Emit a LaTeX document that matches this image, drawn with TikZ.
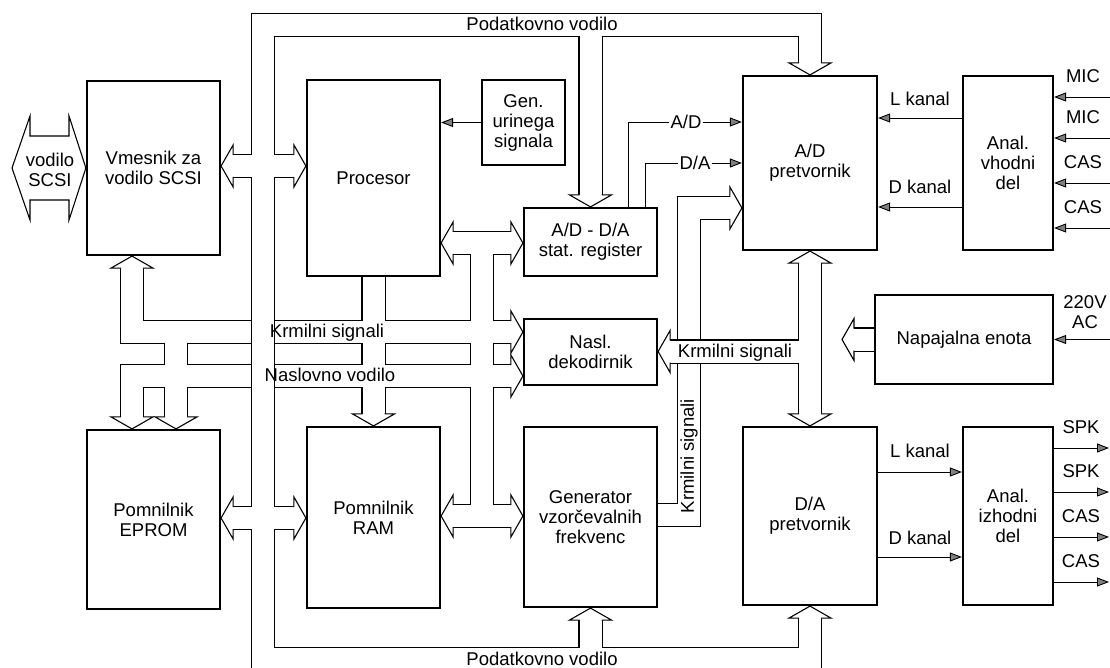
\documentclass[tikz,border=0pt]{standalone}
\usepackage{fontspec}
\setmainfont{Liberation Sans}
\usetikzlibrary{arrows.meta,backgrounds}
\tikzset{
  every node/.style={font=\fontsize{18.5}{20}\selectfont, inner sep=1pt, align=center},
  blok/.style={draw, line width=2.2pt, fill=white},
  sig/.style={line width=0.9pt, -{Triangle[length=12pt, width=9pt, fill=gray]}},
  vod/.style={line width=24.2pt},
  vodnotri/.style={line width=22pt, white},
  glava/.pic={\draw[line width=1.1pt, fill=white] (-12,-11) -- (-12,-21) -- (0,0) -- (-12,21) -- (-12,11);},
}

\begin{document}
\begin{tikzpicture}[x=1pt, y=-1pt]
\useasboundingbox (0,0) rectangle (1110,668);

% bloki
\node[blok, minimum width=133pt, minimum height=174pt] (vmes) at (153.5,168) {Vmesnik za\\vodilo SCSI};
\node[blok, minimum width=133pt, minimum height=196pt] (proc) at (373.5,178) {Procesor};
\node[blok, minimum width=83pt, minimum height=85pt] (gen) at (523.5,122.5) {Gen.\\urinega\\signala};
\node[blok, minimum width=133pt, minimum height=68pt] (reg) at (590.5,242) {A/D - D/A\\stat. register};
\node[blok, minimum width=133pt, minimum height=66pt] (nasl) at (590.5,352) {Nasl.\\dekodirnik};
\node[blok, minimum width=133pt, minimum height=180pt] (vzor) at (590.5,517) {Generator\\vzorčevalnih\\frekvenc};
\node[blok, minimum width=133pt, minimum height=181pt] (ram) at (373.5,517.5) {Pomnilnik\\RAM};
\node[blok, minimum width=133pt, minimum height=179pt] (eprom) at (153.5,519.5) {Pomnilnik\\EPROM};
\node[blok, minimum width=134pt, minimum height=174pt] (adp) at (810,163) {A/D\\pretvornik};
\node[blok, minimum width=90pt, minimum height=174pt] (avh) at (1008,163) {Anal.\\vhodni\\del};
\node[blok, minimum width=178pt, minimum height=89pt] (nap) at (964,339.5) {Napajalna enota};
\node[blok, minimum width=134pt, minimum height=178pt] (dap) at (810,516) {D/A\\pretvornik};
\node[blok, minimum width=90pt, minimum height=178pt] (aiz) at (1008,516) {Anal.\\izhodni\\del};

% vodila (obrobe)
\begin{scope}[on background layer]
\clip (0,0) rectangle (1110,668);
% krmilni signali navpicno
\foreach \s in {vod,vodnotri}
  \draw[\s] (vzor.east |- 0,515) -- (689,515) -- (689,208) -- (730,208);
% krmilni signali desno, napajanje
\foreach \s in {vod,vodnotri}{
  \draw[\s] (810,263) -- (810,414);
  \draw[\s] (810,351.5) -- (670,351.5);
  \draw[\s] (nap.west) -- (854,339.5);
}
% krmilni signali in naslovno vodilo
\foreach \s in {vod,vodnotri}{
  \draw[\s] (132,268) -- (132,332) -- (511,332);
  \draw[\s] (176,332) -- (176,417);
  \draw[\s] (132,417) -- (132,376) -- (511,376);
  \draw[\s] (373.5,277) -- (373.5,414);
  \draw[\s] (482,243) -- (482,516);
  \draw[\s] (453,243) -- (511,243);
  \draw[\s] (453,516) -- (511,516);
}
% podatkovno vodilo
\foreach \s in {vod,vodnotri}{
  \draw[\s] (263,680) -- (263,25) -- (810,25) -- (810,63);
  \draw[\s] (590.5,25) -- (590.5,195);
  \draw[\s] (233,166) -- (294,166);
  \draw[\s] (233,518) -- (294,518);
  \draw[\s] (263,659) -- (810,659) -- (810,618);
  \draw[\s] (590.5,659) -- (590.5,620);
}
% puscice vodil
\pic[rotate=180] at (vmes.east |- 0,166) {glava};
\pic at (proc.west |- 0,166) {glava};
\pic[rotate=180] at (eprom.east |- 0,518) {glava};
\pic at (ram.west |- 0,518) {glava};
\pic[rotate=-90] at (adp.north) {glava};
\pic[rotate=-90] at (reg.north) {glava};
\pic[rotate=90] at (dap.south) {glava};
\pic[rotate=90] at (vzor.south) {glava};
\pic[rotate=90] at (vmes.south -| 132,0) {glava};
\pic[rotate=-90] at (eprom.north -| 132,0) {glava};
\pic[rotate=-90] at (eprom.north -| 176,0) {glava};
\pic[rotate=-90] at (ram.north) {glava};
\pic[rotate=180] at (proc.east |- 0,243) {glava};
\pic at (reg.west |- 0,243) {glava};
\pic[rotate=180] at (ram.east |- 0,516) {glava};
\pic at (vzor.west |- 0,516) {glava};
\pic at (nasl.west |- 0,332) {glava};
\pic at (nasl.west |- 0,376) {glava};
\pic[rotate=180] at (nasl.east |- 0,351.5) {glava};
\pic[rotate=90] at (adp.south) {glava};
\pic[rotate=-90] at (dap.north) {glava};
\pic at (adp.west |- 0,208) {glava};
\pic[rotate=180] at (842,339.5) {glava};
\end{scope}

% vodilo SCSI
\draw[line width=1.1pt, fill=white] (vmes.west |- 0,168) -- (69,116) -- (69,136) -- (30,136) -- (30,116) -- (12,168)
  -- (30,220) -- (30,200) -- (69,200) -- (69,220) -- cycle;
\node (scsi) at (50,170) {vodilo\\SCSI};

% napisi vodil
\node (pvz) at (542,24) {Podatkovno vodilo};
\node (pvs) at (542,659) {Podatkovno vodilo};
\node (kslev) at (327,333) {Krmilni signali};
\node (nvlev) at (330,375) {Naslovno vodilo};
\node (ksdes) at (735,353) {Krmilni signali};
\node[rotate=90] (ksnav) at (689,456) {Krmilni signali};

% krmilne linije
\draw[sig] (gen.west) -- (gen.west -| proc.east);
\node (adtxt) at (686,122) {A/D};
\node (datxt) at (695,163) {D/A};
\draw[line width=0.9pt] (reg.north -| 628,0) |- (adtxt.west);
\draw[sig] (adtxt.east) -- (adtxt.east -| adp.west);
\draw[line width=0.9pt] (reg.north -| 645,0) |- (datxt.west);
\draw[sig] (datxt.east) -- (datxt.east -| adp.west);

% analogni kanali
\draw[sig] (avh.west |- 0,118) -- (adp.east |- 0,118);
\node (lkv) at (920,99) {L kanal};
\draw[sig] (avh.west |- 0,207) -- (adp.east |- 0,207);
\node (dkv) at (920,187) {D kanal};
\draw[sig] (dap.east |- 0,472) -- (aiz.west |- 0,472);
\node (lki) at (920,451) {L kanal};
\draw[sig] (dap.east |- 0,557) -- (aiz.west |- 0,557);
\node (dki) at (920,538) {D kanal};

% vhodi in izhodi
\foreach \y/\t in {97/MIC,138/MIC,183/CAS,228/CAS}{
  \draw[sig] (1110,\y) -- (avh.east |- 0,\y);
  \node (vh\y) at (1083,{\y-21}) {\t};
}
\foreach \y/\t in {448/SPK,492/SPK,537/CAS,582/CAS}{
  \draw[sig] (aiz.east |- 0,\y) -- (1109,\y);
  \node (iz\y) at (1081,{\y-21}) {\t};
}
\node (ac) at (1085,312) {220V\\AC};
\draw[sig] (1110,339.5) -- (nap.east);
\end{tikzpicture}
\end{document}
